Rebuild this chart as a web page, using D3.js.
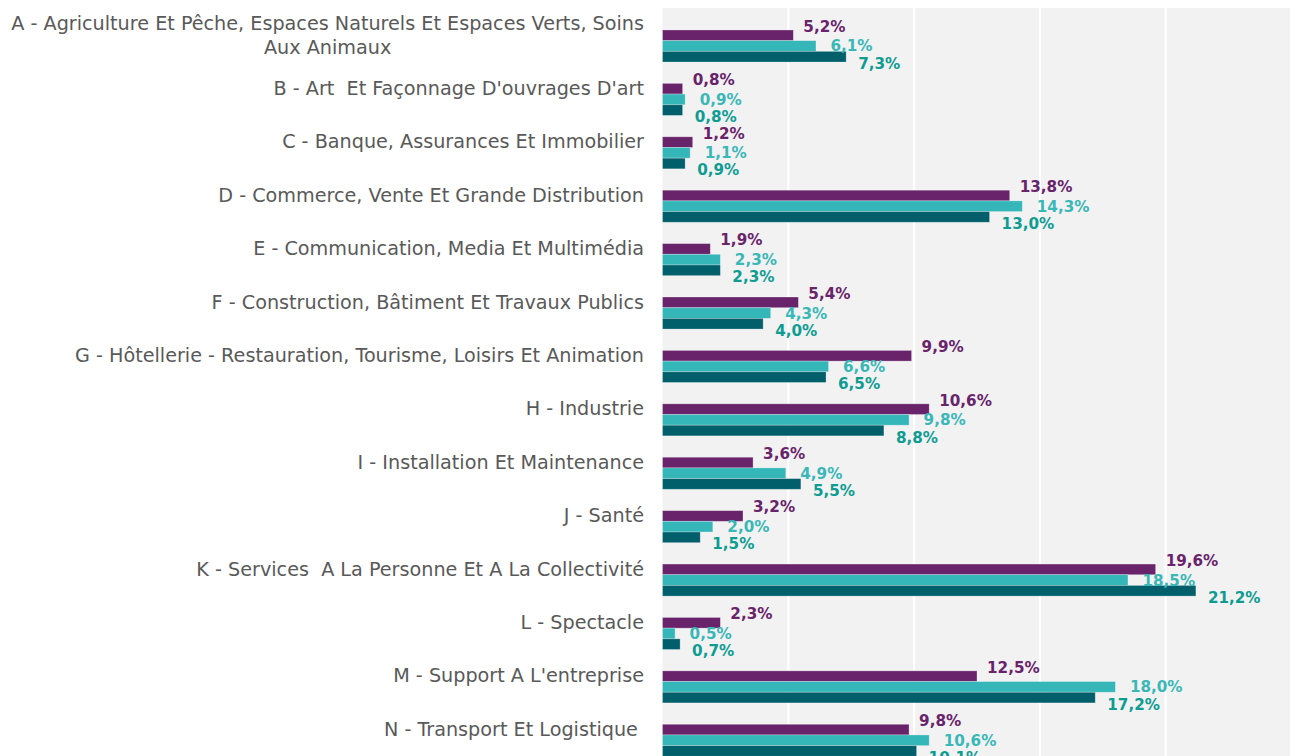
<!DOCTYPE html>
<html>
<head>
<meta charset="utf-8">
<script src="https://cdn.jsdelivr.net/npm/d3@7"></script>
<style>
  html, body { margin: 0; padding: 0; background: #ffffff; }
  svg { display: block; }
</style>
</head>
<body>
<svg id="chart" width="1290" height="756"></svg>
<script>
// ---- data ----
const categories = [
  "A - Agriculture Et Pêche, Espaces Naturels Et Espaces Verts, Soins Aux Animaux",
  "B - Art  Et Façonnage D'ouvrages D'art",
  "C - Banque, Assurances Et Immobilier",
  "D - Commerce, Vente Et Grande Distribution",
  "E - Communication, Media Et Multimédia",
  "F - Construction, Bâtiment Et Travaux Publics",
  "G - Hôtellerie - Restauration, Tourisme, Loisirs Et Animation",
  "H - Industrie",
  "I - Installation Et Maintenance",
  "J - Santé",
  "K - Services  A La Personne Et A La Collectivité",
  "L - Spectacle",
  "M - Support A L'entreprise",
  "N - Transport Et Logistique "
];
const seriesNames = ["Série 1", "Série 2", "Série 3"];
const serie1 = [5.2, 0.8, 1.2, 13.8, 1.9, 5.4, 9.9, 10.6, 3.6, 3.2, 19.6, 2.3, 12.5, 9.8];
const serie2 = [6.1, 0.9, 1.1, 14.3, 2.3, 4.3, 6.6, 9.8, 4.9, 2.0, 18.5, 0.5, 18.0, 10.6];
const serie3 = [7.3, 0.8, 0.9, 13.0, 2.3, 4.0, 6.5, 8.8, 5.5, 1.5, 21.2, 0.7, 17.2, 10.1];
const xTicks = [0, 5, 10, 15, 20, 25];

// ---- styling ----
const barColors = ["#68236a", "#35b6b8", "#005f6b"];
const labelColors = ["#68236a", "#3ab7b7", "#0e9c92"];
const labelDx = [10, 14.5, 12];
const labelDy = [-8.5, 0.5, 7];

const svg = d3.select("#chart");
const plot = { left: 662.5, right: 1291.5, top: 8, bottom: 756 };

const x = d3.scaleLinear().domain([0, 25]).range([plot.left, plot.right]);
const y = d3.scaleBand().domain(categories).range([19.3, 767]).paddingInner(0.4).paddingOuter(0.2);
const ySub = d3.scaleBand().domain(seriesNames).range([0, y.bandwidth()]);

// background
svg.append("rect")
  .attr("x", plot.left).attr("y", plot.top)
  .attr("width", 1290 - plot.left).attr("height", plot.bottom - plot.top)
  .attr("fill", "#f2f2f2");

// gridlines
svg.append("g").selectAll("line")
  .data(xTicks.filter(d => d > 0))
  .join("line")
  .attr("x1", d => x(d)).attr("x2", d => x(d))
  .attr("y1", plot.top).attr("y2", plot.bottom)
  .attr("stroke", "#ffffff").attr("stroke-width", 2);

const allSeries = [serie1, serie2, serie3];
const rows = categories.map((c, i) => ({ cat: c, vals: allSeries.map((s, k) => ({ k, name: seriesNames[k], v: s[i] })) }));

const groups = svg.append("g").selectAll("g")
  .data(rows).join("g")
  .attr("transform", d => `translate(0,${y(d.cat)})`);

groups.selectAll("rect")
  .data(d => d.vals).join("rect")
  .attr("x", x(0))
  .attr("y", d => ySub(d.name))
  .attr("width", d => x(d.v) - x(0))
  .attr("height", ySub.bandwidth())
  .attr("fill", d => barColors[d.k])
  .attr("stroke", "rgba(255,255,255,0.35)")
  .attr("stroke-width", 0.8);

const fmt = v => v.toFixed(1).replace(".", ",") + "%";

groups.selectAll("text.val")
  .data(d => d.vals).join("text")
  .attr("class", "val")
  .attr("x", d => x(d.v) + labelDx[d.k])
  .attr("y", d => ySub(d.name) + ySub.bandwidth() / 2 + labelDy[d.k])
  .attr("dominant-baseline", "central")
  .attr("font-family", "'DejaVu Sans', Verdana, sans-serif")
  .attr("font-weight", "bold")
  .attr("font-size", "15.2px")
  .attr("fill", d => labelColors[d.k])
  .text(d => fmt(d.v));

// category labels (y axis), wrapped to max width
const labelRight = 644;
const maxW = 640;
const catG = svg.append("g")
  .attr("font-family", "'DejaVu Sans', Verdana, sans-serif")
  .attr("font-size", "19.2px")
  .attr("fill", "#595959");

categories.forEach(c => {
  const cy = y(c) + y.bandwidth() / 2 - 11;
  const words = c.split(" ");
  const lines = [];
  let cur = "";
  const probe = catG.append("text").style("white-space", "pre");
  words.forEach(w => {
    const test = cur === "" ? w : cur + " " + w;
    probe.text(test);
    if (probe.node().getComputedTextLength() > maxW && cur !== "") {
      lines.push(cur);
      cur = w;
    } else cur = test;
  });
  lines.push(cur);
  probe.remove();
  const lh = 24;
  if (lines.length === 1) {
    catG.append("text")
      .style("white-space", "pre")
      .attr("x", labelRight).attr("y", cy)
      .attr("text-anchor", "end")
      .attr("dominant-baseline", "central")
      .text(lines[0]);
  } else {
    const t0 = catG.append("text").style("white-space", "pre").text(lines[0]);
    const w0 = t0.node().getComputedTextLength();
    t0.remove();
    const cx = labelRight - w0 / 2;
    lines.forEach((ln, j) => {
      catG.append("text")
        .style("white-space", "pre")
        .attr("x", cx)
        .attr("y", cy + (j - (lines.length - 1) / 2) * lh)
        .attr("text-anchor", "middle")
        .attr("dominant-baseline", "central")
        .text(ln);
    });
  }
});
</script>
</body>
</html>
